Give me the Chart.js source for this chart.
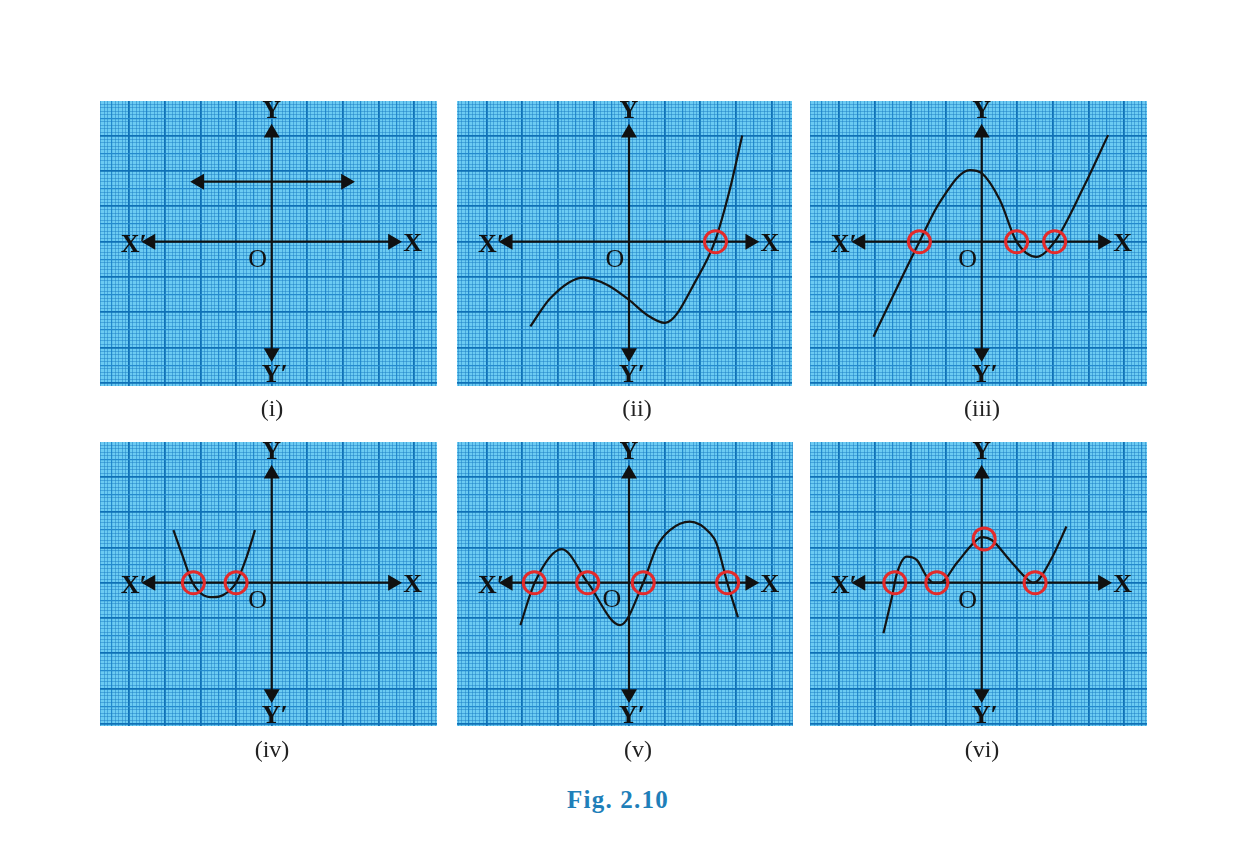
<!DOCTYPE html>
<html lang="en">
<head>
<meta charset="UTF-8" />
<title>Fig. 2.10</title>
<script src="https://cdn.jsdelivr.net/npm/chart.js"></script>
<style>
  body { margin: 0; background: #fff; width: 1243px; height: 864px; position: relative; overflow: hidden; }
  canvas { position: absolute; }
  .label { position: absolute; transform: translate(-50%, -50%); font-family: "Times New Roman", "Liberation Serif", serif; font-size: 24px; color: #222; }
  .fig { position: absolute; left: 618px; top: 800px; transform: translate(-50%, -50%); font-family: "Times New Roman", "Liberation Serif", serif; font-weight: bold; font-size: 25px; letter-spacing: 1.2px; color: #1f7fb9; }
</style>
</head>
<body>
<div class="fig">Fig. 2.10</div>
<script>
  // ---- data (graph units, 1 unit = one big square) ----
  const panelLabels = ["(i)", "(ii)", "(iii)", "(iv)", "(v)", "(vi)"];
  const axisXEnds = [-3.4, 3.4];
  const axisYEnds = [-3.15, 3.08];

  // (i) y = k
  const lineOneX = [-2.03, 2.08];
  const lineOneY = [1.7, 1.7];

  // (ii)
  const curveTwoX = [-2.77, -2.21, -1.28, -0.62, 0, 0.5, 1.01, 1.94, 2.41, 2.83, 3.18];
  const curveTwoY = [-2.4, -1.6, -1.02, -1.22, -1.65, -2.07, -2.3, -0.99, 0, 1.47, 3.01];
  const rootsTwoX = [2.43];
  const rootsTwoY = [0];

  // (iii)
  const curveThreeX = [-3.04, -1.75, -1.17, -0.33, 0, 0.51, 0.98, 1.54, 2.05, 2.85, 3.55];
  const curveThreeY = [-2.69, 0, 1.13, 2.03, 1.94, 1.18, 0, -0.43, 0, 1.52, 3.02];
  const rootsThreeX = [-1.75, 0.98, 2.05];
  const rootsThreeY = [0, 0, 0];

  // (iv)
  const curveFourX = [-2.76, -2.5, -2.22, -1.92, -1.64, -1.36, -1.0, -0.7, -0.47];
  const curveFourY = [1.49, 0.75, 0, -0.35, -0.41, -0.35, 0, 0.74, 1.49];
  const rootsFourX = [-2.2, -1.0];
  const rootsFourY = [0, 0];

  // (v)
  const curveFiveX = [-3.05, -2.65, -1.89, -1.16, -0.25, 0.4, 0.78, 1.15, 1.71, 2.28, 2.46, 2.76, 3.06];
  const curveFiveY = [-1.2, 0, 0.95, 0, -1.2, 0, 1.02, 1.49, 1.73, 1.4, 1.11, 0, -0.98];
  const rootsFiveX = [-2.66, -1.16, 0.4, 2.77];
  const rootsFiveY = [0, 0, 0, 0];

  // (vi)
  const curveSixX = [-2.76, -2.52, -2.38, -2.1, -1.82, -1.54, -1.35, -1.17, -0.7, -0.23, 0, 0.28, 0.77, 1.26, 1.45, 1.63, 2.01, 2.38];
  const curveSixY = [-1.43, -0.4, 0.27, 0.74, 0.64, 0.17, 0, 0, 0.56, 1.12, 1.29, 1.21, 0.66, 0.12, 0, 0.12, 0.78, 1.59];
  const rootsSixX = [-2.44, -1.26, 0.07, 1.5];
  const rootsSixY = [0, 0, 1.24, 0];

  // ---- layout (pixels) ----
  const PAD = 16;
  const UX = 35.6, UY = 35.3;
  const panels = [
    { left: 100, top: 101, w: 337, h: 285, ox: 271.7, oy: 241.7, lx: 272, ly: 408, o: [-14, 18] },
    { left: 457, top: 101, w: 335, h: 285, ox: 629, oy: 241.7, lx: 637, ly: 408, o: [-14, 18] },
    { left: 810, top: 101, w: 337, h: 285, ox: 981.7, oy: 241.7, lx: 982, ly: 408, o: [-14, 18] },
    { left: 100, top: 442, w: 337, h: 284, ox: 271.7, oy: 582.7, lx: 272, ly: 749, o: [-14, 18] },
    { left: 457, top: 442, w: 336, h: 284, ox: 629, oy: 582.7, lx: 638, ly: 749, o: [-17, 17] },
    { left: 810, top: 442, w: 337, h: 284, ox: 981.7, oy: 582.7, lx: 982, ly: 749, o: [-14, 18] }
  ];

  const pts = (xs, ys) => xs.map((x, i) => ({ x: x, y: ys[i] }));

  function axisSets() {
    return [
      {
        data: pts(axisXEnds, [0, 0]), borderColor: "#111", backgroundColor: "#111", borderWidth: 2.2,
        pointStyle: "triangle", pointRadius: 7, pointRotation: [-90, 90], order: 3
      },
      {
        data: pts([0, 0], axisYEnds), borderColor: "#111", backgroundColor: "#111", borderWidth: 2.2,
        pointStyle: "triangle", pointRadius: 7, pointRotation: [180, 0], order: 3
      }
    ];
  }

  function curveSet(xs, ys) {
    return {
      data: pts(xs, ys), borderColor: "#141414", borderWidth: 2.2, pointRadius: 0,
      cubicInterpolationMode: "monotone", order: 2
    };
  }

  function rootSet(xs, ys) {
    return {
      data: pts(xs, ys), showLine: false, pointStyle: "circle", pointRadius: 11,
      pointBorderWidth: 3, pointBorderColor: "#e32b2b", pointBackgroundColor: "rgba(0,0,0,0)", order: 1
    };
  }

  function paperTicks(scale) {
    const ticks = [];
    const a = Math.ceil(scale.min * 10 - 1e-6), b = Math.floor(scale.max * 10 + 1e-6);
    for (let k = a; k <= b; k++) ticks.push({ value: k / 10 });
    scale.ticks = ticks;
  }

  function gridColor(c) {
    if (!c.tick) return "rgba(0,0,0,0)";
    const k = Math.round(c.tick.value * 10);
    if (k % 10 === 0) return "#0f70b6";
    if (k % 5 === 0) return "#248ace";
    return "rgba(28,125,196,0.6)";
  }

  function gridWidth(c) {
    if (!c.tick) return 0;
    const k = Math.round(c.tick.value * 10);
    if (k % 10 === 0) return 1.8;
    if (k % 5 === 0) return 1.2;
    return 0.8;
  }

  const paperPlugin = {
    id: "paper",
    beforeDraw(chart) {
      const a = chart.chartArea, ctx = chart.ctx;
      ctx.save();
      ctx.fillStyle = "#6ccbf2";
      ctx.fillRect(a.left, a.top, a.right - a.left, a.bottom - a.top);
      ctx.restore();
    },
    afterDraw(chart) {
      const ctx = chart.ctx, o = chart.options.plugins.paper.o;
      const x0 = chart.scales.x.getPixelForValue(0), y0 = chart.scales.y.getPixelForValue(0);
      ctx.save();
      ctx.fillStyle = "#111";
      ctx.textAlign = "center";
      ctx.textBaseline = "middle";
      ctx.font = 'bold 26px "Times New Roman", "Liberation Serif", serif';
      ctx.fillText("Y", x0, y0 - 130);
      ctx.fillText("Y\u2032", x0 + 3, y0 + 134);
      ctx.fillText("X\u2032", x0 - 138, y0 + 4);
      ctx.fillText("X", x0 + 141, y0 + 3);
      ctx.font = '26px "Times New Roman", "Liberation Serif", serif';
      ctx.fillText("O", x0 + o[0], y0 + o[1]);
      ctx.restore();
    }
  };

  const panelSets = [
    [{
      data: pts(lineOneX, lineOneY), borderColor: "#111", backgroundColor: "#111", borderWidth: 2.2,
      pointStyle: "triangle", pointRadius: 7, pointRotation: [-90, 90], order: 2
    }],
    [curveSet(curveTwoX, curveTwoY), rootSet(rootsTwoX, rootsTwoY)],
    [curveSet(curveThreeX, curveThreeY), rootSet(rootsThreeX, rootsThreeY)],
    [curveSet(curveFourX, curveFourY), rootSet(rootsFourX, rootsFourY)],
    [curveSet(curveFiveX, curveFiveY), rootSet(rootsFiveX, rootsFiveY)],
    [curveSet(curveSixX, curveSixY), rootSet(rootsSixX, rootsSixY)]
  ];

  panels.forEach(function (p, i) {
    const canvas = document.createElement("canvas");
    canvas.width = p.w + 2 * PAD;
    canvas.height = p.h + 2 * PAD;
    canvas.style.left = (p.left - PAD) + "px";
    canvas.style.top = (p.top - PAD) + "px";
    document.body.appendChild(canvas);

    const lab = document.createElement("div");
    lab.className = "label";
    lab.style.left = p.lx + "px";
    lab.style.top = p.ly + "px";
    lab.textContent = panelLabels[i];
    document.body.appendChild(lab);

    const axisOpts = {
      type: "linear",
      ticks: { display: false },
      border: { display: false },
      grid: { drawTicks: false, color: gridColor, lineWidth: gridWidth },
      afterBuildTicks: paperTicks
    };

    new Chart(canvas, {
      type: "line",
      data: { datasets: panelSets[i].concat(axisSets()) },
      options: {
        responsive: false,
        animation: false,
        devicePixelRatio: 1,
        layout: { padding: PAD },
        plugins: { legend: { display: false }, tooltip: { enabled: false }, paper: { o: p.o } },
        scales: {
          x: Object.assign({}, axisOpts, { min: (p.left - p.ox) / UX, max: (p.left + p.w - p.ox) / UX }),
          y: Object.assign({}, axisOpts, { min: (p.oy - p.top - p.h) / UY, max: (p.oy - p.top) / UY })
        }
      },
      plugins: [paperPlugin]
    });
  });
</script>
</body>
</html>
